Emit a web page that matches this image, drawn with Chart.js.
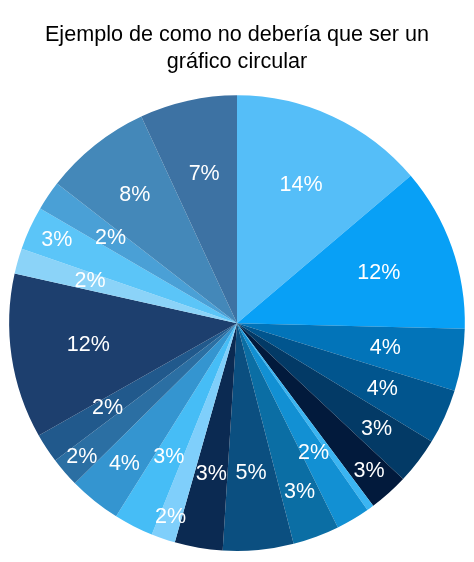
<!DOCTYPE html>
<html>
<head>
<meta charset="utf-8">
<script src="https://cdn.jsdelivr.net/npm/chart.js@4"></script>
<style>
  html, body { margin: 0; padding: 0; background: #fff; }
  #wrap { width: 474px; height: 562px; }
</style>
</head>
<body>
<div id="wrap"><canvas id="tarta"></canvas></div>
<script>
// Datos (porcentajes, sentido horario desde arriba)
const categorias = ["A", "B", "C", "D", "E", "F", "G", "H", "I", "J", "K",
                    "L", "M", "N", "O", "P", "Q", "R", "S", "T", "U", "V"];
const valores = [13.8, 11.6, 4.4, 3.9, 3.3, 2.8, 0.5, 2.4, 3.3, 5.0, 3.4,
                 1.7, 2.8, 3.7, 2.1, 2.1, 11.7, 1.8, 3.1, 2.1, 7.6, 6.9];
const tituloLineas = ["Ejemplo de como no debería que ser un", "gráfico circular"];

// Estilo
const colores = ["#55BEF8", "#08A0F6", "#0274B9", "#01558E", "#033A66", "#021A3C",
                 "#3BB5F2", "#1290D3", "#0B6EA4", "#0B4F80", "#0B2A52", "#7FCFFB",
                 "#46BDF6", "#3495D0", "#2B6FA3", "#21598C", "#1D3F6E", "#8BD3F8",
                 "#5BC5F8", "#4AA0D6", "#4488B9", "#3D72A3"];
// distancia de cada etiqueta al centro (fracción del radio)
const radioEtiqueta = [0.67, 0.66, 0.66, 0.70, 0.77, 0.87, 0.66, 0.66, 0.79, 0.66, 0.67,
                       0.90, 0.66, 0.79, 0.90, 0.68, 0.66, 0.67, 0.87, 0.67, 0.72, 0.67];

const total = valores.reduce((a, b) => a + b, 0);

const etiquetas = {
  id: "etiquetas",
  afterDatasetsDraw(chart) {
    const ctx = chart.ctx;
    const arcos = chart.getDatasetMeta(0).data;
    ctx.save();
    ctx.fillStyle = "#ffffff";
    ctx.font = "21.5px 'Liberation Sans', Arial, sans-serif";
    ctx.textAlign = "center";
    ctx.textBaseline = "middle";
    arcos.forEach((arco, i) => {
      const pct = valores[i] / total * 100;
      if (pct < 1) return;
      const p = arco.getProps(["x", "y", "startAngle", "endAngle", "outerRadius"], true);
      const a = (p.startAngle + p.endAngle) / 2;
      const r = p.outerRadius * radioEtiqueta[i];
      ctx.fillText(Math.round(pct) + "%", p.x + Math.cos(a) * r, p.y + Math.sin(a) * r);
    });
    ctx.restore();
  }
};

new Chart(document.getElementById("tarta"), {
  type: "pie",
  data: {
    labels: categorias,
    datasets: [{
      data: valores,
      backgroundColor: colores,
      borderWidth: 0
    }]
  },
  options: {
    responsive: true,
    maintainAspectRatio: false,
    animation: false,
    layout: { padding: { left: 9, right: 9, top: 0, bottom: 11 } },
    plugins: {
      legend: { display: false },
      tooltip: { enabled: false },
      title: {
        display: true,
        text: tituloLineas,
        color: "#000000",
        font: { family: "'Liberation Sans', Arial, sans-serif", size: 21.6, weight: "normal", lineHeight: 1.28 },
        padding: { top: 21, bottom: 19 }
      }
    }
  },
  plugins: [etiquetas]
});
</script>
</body>
</html>
